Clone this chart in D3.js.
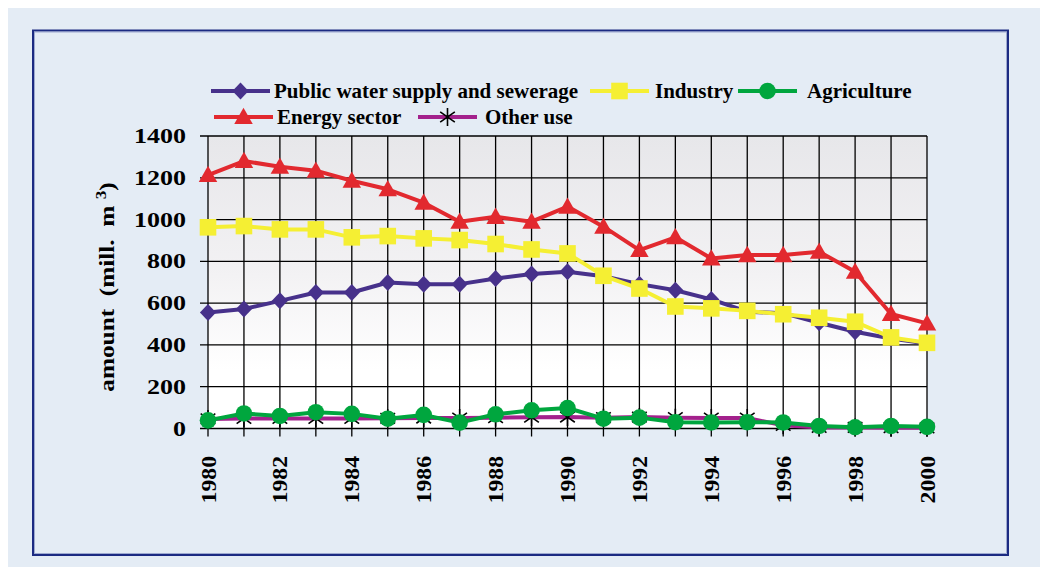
<!DOCTYPE html>
<html>
<head>
<meta charset="utf-8">
<script src="https://cdn.jsdelivr.net/npm/d3@7"></script>
<style>
  html, body { margin: 0; padding: 0; background: #ffffff; }
  svg { display: block; }
  text { font-family: "Liberation Serif", "Times New Roman", serif; font-weight: bold; fill: #000; white-space: pre; }
</style>
</head>
<body>
<script>
// values (mill. m3)
var years = d3.range(1980, 2001);
var publicWater = [555, 572, 611, 651, 651, 699, 691, 691, 718, 739, 750, 729, 691, 662, 618, 559, 552, 506, 463, 431, 407];
var industry    = [963, 969, 953, 953, 915, 921, 910, 902, 883, 857, 838, 731, 670, 584, 575, 563, 547, 530, 511, 436, 410];
var agriculture = [39, 72, 60, 78, 70, 47, 65, 28, 68, 87, 98, 47, 52, 30, 29, 30, 29, 12, 6, 12, 8];
var energy      = [1213, 1280, 1253, 1234, 1186, 1145, 1081, 990, 1013, 990, 1062, 966, 854, 915, 814, 830, 830, 846, 750, 548, 503];
var otherUse    = [46, 48, 48, 48, 48, 49, 50, 50, 52, 54, 55, 52, 55, 52, 50, 50, 15, 5, 5, 4, 3];
var yTicks = [0, 200, 400, 600, 800, 1000, 1200, 1400];
var xTicks = [1980, 1982, 1984, 1986, 1988, 1990, 1992, 1994, 1996, 1998, 2000];

var W = 1040, H = 567;
var svg = d3.select("body").append("svg").attr("width", W).attr("height", H);

// light blue panel and navy frame
svg.append("rect").attr("x", 8).attr("y", 8).attr("width", W - 8).attr("height", H - 8).attr("fill", "#e4ecf5");
svg.append("rect").attr("x", 33).attr("y", 30.5).attr("width", 975).attr("height", 524.5)
  .attr("fill", "none").attr("stroke", "#1c2b82").attr("stroke-width", 2);
svg.append("rect").attr("x", 34.5).attr("y", 32).attr("width", 972).attr("height", 521.5)
  .attr("fill", "none").attr("stroke", "#8d9ac8").attr("stroke-width", 0.8);

var x = d3.scaleLinear().domain([1980, 2000]).range([208, 927]);
var y = d3.scaleLinear().domain([0, 1400]).range([428.5, 136]);

// plot background gradient
var grad = svg.append("defs").append("linearGradient").attr("id", "bg")
  .attr("x1", 0).attr("y1", 0).attr("x2", 0).attr("y2", 1);
grad.append("stop").attr("offset", "0%").attr("stop-color", "#e7e7ea");
grad.append("stop").attr("offset", "45%").attr("stop-color", "#f2f1f3");
grad.append("stop").attr("offset", "80%").attr("stop-color", "#ffffff");
grad.append("stop").attr("offset", "100%").attr("stop-color", "#ffffff");
svg.append("rect").attr("x", x(1980)).attr("y", y(1400))
  .attr("width", x(2000) - x(1980)).attr("height", y(0) - y(1400)).attr("fill", "url(#bg)");

// gridlines
svg.append("g").selectAll("line").data(yTicks).join("line")
  .attr("x1", x(1980) - 8).attr("x2", x(2000)).attr("y1", d => y(d)).attr("y2", d => y(d))
  .attr("stroke", "#000").attr("stroke-width", 1.3);
svg.append("g").selectAll("line").data(years).join("line")
  .attr("x1", d => x(d)).attr("x2", d => x(d)).attr("y1", y(1400)).attr("y2", y(0) + 8)
  .attr("stroke", "#000").attr("stroke-width", 1.3);

// y tick labels (wide, as in the original)
svg.append("g").selectAll("text").data(yTicks).join("text")
  .attr("transform", d => "translate(186," + (y(d) + 7) + ") scale(1.3,1)")
  .attr("text-anchor", "end").attr("font-size", 20).text(d => d);

// x tick labels (rotated)
svg.append("g").selectAll("text").data(xTicks).join("text")
  .attr("transform", d => "translate(" + (x(d) + 7.5) + ",456) rotate(-90) scale(1.08,1)")
  .attr("text-anchor", "end").attr("font-size", 22).text(d => d);

// y axis title
var yt = svg.append("text").attr("transform", "translate(114,287) rotate(-90) scale(1.15,1)")
  .attr("text-anchor", "middle").attr("font-size", 22);
yt.append("tspan").text("amount  (mill.  m ");
yt.append("tspan").attr("dy", -8).attr("font-size", 15).text("3");
yt.append("tspan").attr("dy", 8).text(")");

// marker shapes
function marker(g, type, color, s) {
  if (type === "diamond") {
    g.append("path").attr("d", "M0," + (-s) + "L" + (s * 0.95) + ",0L0," + s + "L" + (-s * 0.95) + ",0Z").attr("fill", color);
  } else if (type === "square") {
    g.append("rect").attr("x", -s).attr("y", -s).attr("width", 2 * s).attr("height", 2 * s).attr("fill", color);
  } else if (type === "circle") {
    g.append("circle").attr("r", s).attr("fill", color);
  } else if (type === "triangle") {
    g.append("path").attr("d", "M0," + (-s * 1.05) + "L" + (s * 1.05) + "," + (s * 0.8) + "L" + (-s * 1.05) + "," + (s * 0.8) + "Z").attr("fill", color);
  } else if (type === "asterisk") {
    var a = s * Math.sin(Math.PI / 3.3), b = s * Math.cos(Math.PI / 3.3);
    g.append("path").attr("d", "M0," + (-s) + "V" + s + "M" + (-a) + "," + (-b) + "L" + a + "," + b + "M" + a + "," + (-b) + "L" + (-a) + "," + b)
      .attr("stroke", color).attr("stroke-width", 1.6).attr("fill", "none");
  }
}

var series = [
  {name: "Other use", values: otherUse, color: "#a3218c", marker: "asterisk", mcolor: "#000", size: 9},
  {name: "Public water supply and sewerage", values: publicWater, color: "#47318b", marker: "diamond", mcolor: "#47318b", size: 8.5},
  {name: "Industry", values: industry, color: "#f5ef33", marker: "square", mcolor: "#f5ef33", size: 8.3},
  {name: "Agriculture", values: agriculture, color: "#00a63e", marker: "circle", mcolor: "#00a63e", size: 8.3},
  {name: "Energy sector", values: energy, color: "#e2292f", marker: "triangle", mcolor: "#e2292f", size: 8.8}
];

var line = d3.line().x((d, i) => x(years[i])).y(d => y(d));

series.forEach(function(s) {
  svg.append("path").attr("d", line(s.values)).attr("fill", "none")
    .attr("stroke", s.color).attr("stroke-width", 4).attr("stroke-linejoin", "round");
  s.values.forEach(function(v, i) {
    var g = svg.append("g").attr("transform", "translate(" + x(years[i]) + "," + y(v) + ")");
    marker(g, s.marker, s.mcolor, s.size);
  });
});

// legend
var legendItems = [
  {s: series[1], lx: 211, ty: 91, tx: 274},
  {s: series[2], lx: 590, ty: 91, tx: 655},
  {s: series[3], lx: 738, ty: 91, tx: 807},
  {s: series[4], lx: 214, ty: 117, tx: 277},
  {s: series[0], lx: 418, ty: 117, tx: 485}
];
legendItems.forEach(function(it) {
  var len = 59;
  svg.append("line").attr("x1", it.lx).attr("x2", it.lx + len).attr("y1", it.ty).attr("y2", it.ty)
    .attr("stroke", it.s.color).attr("stroke-width", 4);
  var g = svg.append("g").attr("transform", "translate(" + (it.lx + len / 2) + "," + it.ty + ")");
  marker(g, it.s.marker, it.s.mcolor, it.s.size);
  svg.append("text").attr("x", it.tx).attr("y", it.ty + 7).attr("font-size", 21).text(it.s.name);
});
</script>
</body>
</html>
